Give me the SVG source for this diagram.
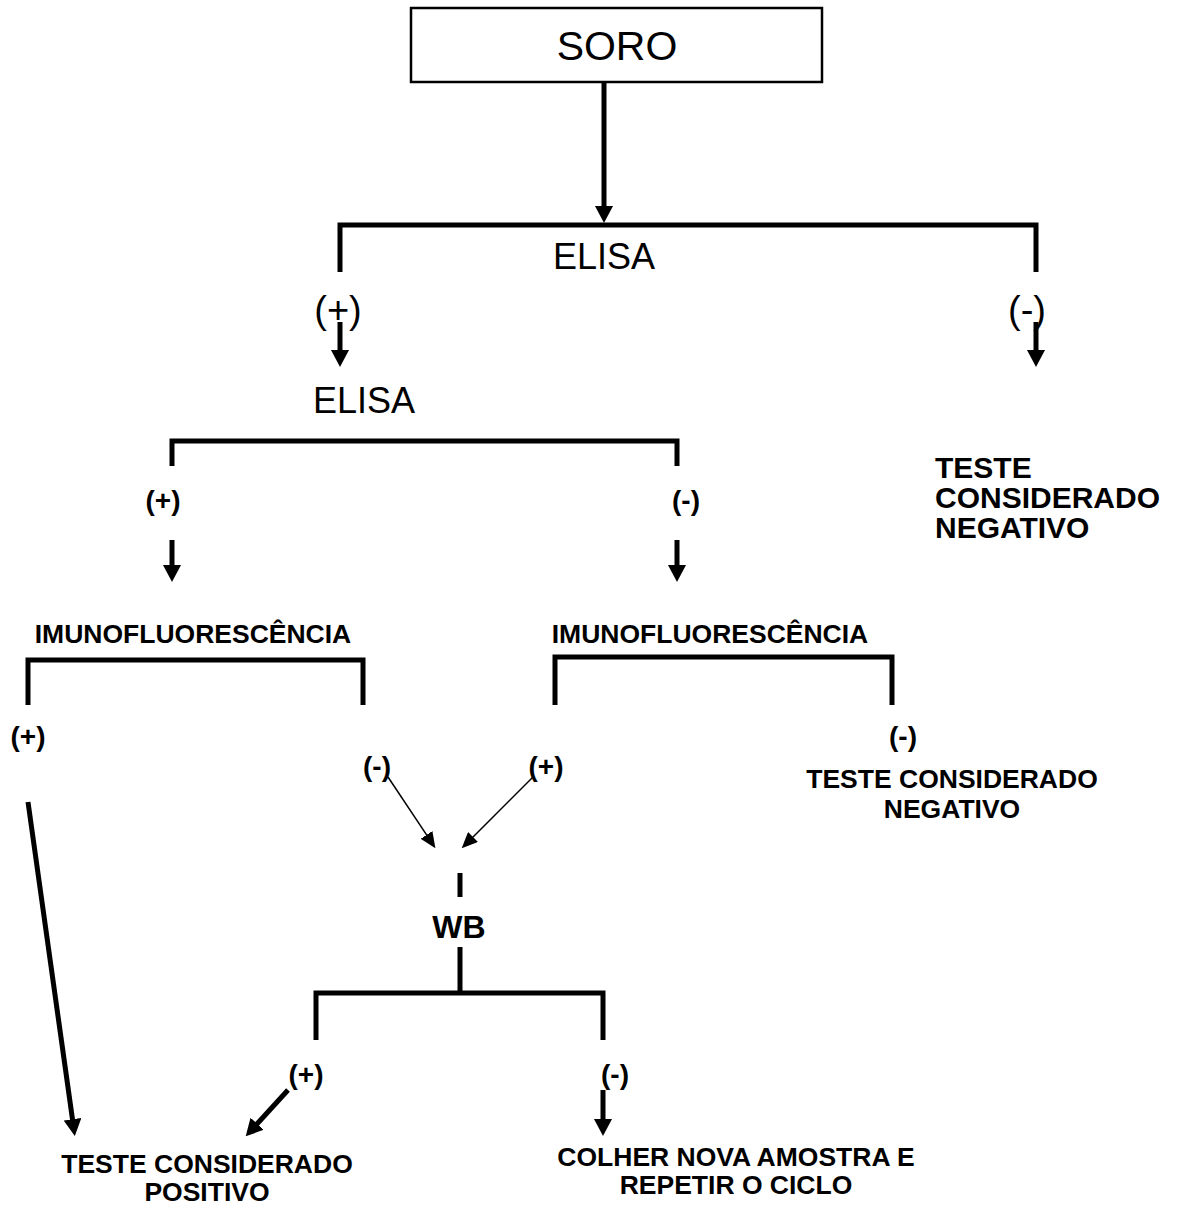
<svg xmlns="http://www.w3.org/2000/svg" width="1181" height="1206" viewBox="0 0 1181 1206">
<style>
.reg{font-family:"Liberation Sans",Arial,sans-serif;fill:#000;text-anchor:middle}
.b{font-family:"Liberation Sans",Arial,sans-serif;font-weight:bold;fill:#000;text-anchor:middle;font-size:26.5px}
.p{font-size:28px}
.r{text-anchor:start;font-size:30px}
.th{fill:none;stroke:#000;stroke-width:5;stroke-linecap:butt;stroke-linejoin:miter}
.tn{fill:none;stroke:#000;stroke-width:1.5}
</style>
<defs>
<marker id="ah" viewBox="0 -9 17 18" refX="1" refY="0" markerWidth="17" markerHeight="18" markerUnits="userSpaceOnUse" orient="auto"><path d="M0,-9 L17,0 L0,9 z" fill="#000"/></marker>
<marker id="at" viewBox="0 -7 16 14" refX="1" refY="0" markerWidth="16" markerHeight="14" markerUnits="userSpaceOnUse" orient="auto"><path d="M0,-7 L16,0 L0,7 z" fill="#000"/></marker>
</defs>
<rect width="1181" height="1206" fill="#fff"/>
<g id="connectors">
<line class="th" x1="604" y1="82" x2="604" y2="207" marker-end="url(#ah)"/>
<path class="th" d="M340,272 V225 H1036 V272"/>
<line class="th" x1="340" y1="322" x2="340" y2="351" marker-end="url(#ah)"/>
<line class="th" x1="1036" y1="322" x2="1036" y2="351" marker-end="url(#ah)"/>
<path class="th" d="M172,466 V441 H677 V466"/>
<line class="th" x1="172" y1="540" x2="172" y2="566" marker-end="url(#ah)"/>
<line class="th" x1="677" y1="540" x2="677" y2="566" marker-end="url(#ah)"/>
<path class="th" d="M28,705 V660 H363 V705"/>
<path class="th" d="M555,705 V657 H892 V705"/>
<line class="tn" x1="388" y1="777" x2="427.1" y2="835.7" marker-end="url(#at)"/>
<line class="tn" x1="533" y1="777" x2="472.3" y2="837.7" marker-end="url(#at)"/>
<line class="th" x1="460" y1="873" x2="460" y2="897"/>
<line class="th" x1="460" y1="947" x2="460" y2="993"/>
<path class="th" d="M316,1040 V993 H603 V1040"/>
<line class="th" x1="28" y1="802" x2="72.6" y2="1120.2" marker-end="url(#ah)"/>
<line class="th" x1="288" y1="1090" x2="256.5" y2="1124.5" marker-end="url(#ah)"/>
<line class="th" x1="603" y1="1090" x2="603" y2="1120" marker-end="url(#ah)"/>
</g>
<g id="soro"><rect x="411" y="8" width="411" height="74" fill="#fff" stroke="#000" stroke-width="2.5"/><text class="reg" x="617" y="60" font-size="41">SORO</text></g>
<g id="elisa1"><text class="reg" x="604" y="269" font-size="36">ELISA</text></g>
<g id="pos1"><text class="reg" x="338" y="323" font-size="38">(+)</text></g>
<g id="neg1"><text class="reg" x="1027" y="323" font-size="38">(-)</text></g>
<g id="elisa2"><text class="reg" x="364" y="413" font-size="36">ELISA</text></g>
<g id="neg-result1"><text class="b r" x="935" y="478">TESTE</text><text class="b r" x="935" y="508">CONSIDERADO</text><text class="b r" x="935" y="538">NEGATIVO</text></g>
<g id="pos2"><text class="b p" x="163" y="510">(+)</text></g>
<g id="neg2"><text class="b p" x="686" y="510">(-)</text></g>
<g id="if1"><text class="b" x="193" y="643">IMUNOFLUORESCÊNCIA</text></g>
<g id="if2"><text class="b" x="710" y="643">IMUNOFLUORESCÊNCIA</text></g>
<g id="pos3"><text class="b p" x="28" y="746">(+)</text></g>
<g id="neg3"><text class="b p" x="377" y="776">(-)</text></g>
<g id="pos4"><text class="b p" x="546" y="776">(+)</text></g>
<g id="neg4"><text class="b p" x="903" y="746">(-)</text></g>
<g id="neg-result2"><text class="b" x="952" y="788">TESTE CONSIDERADO</text><text class="b" x="952" y="818">NEGATIVO</text></g>
<g id="wb"><text class="b" x="459" y="938" style="font-size:32px">WB</text></g>
<g id="pos5"><text class="b p" x="306" y="1084">(+)</text></g>
<g id="neg5"><text class="b p" x="615" y="1084">(-)</text></g>
<g id="pos-result"><text class="b" x="207" y="1173">TESTE CONSIDERADO</text><text class="b" x="207" y="1201">POSITIVO</text></g>
<g id="repeat"><text class="b" x="736" y="1166">COLHER NOVA AMOSTRA E</text><text class="b" x="736" y="1194">REPETIR O CICLO</text></g>
</svg>
